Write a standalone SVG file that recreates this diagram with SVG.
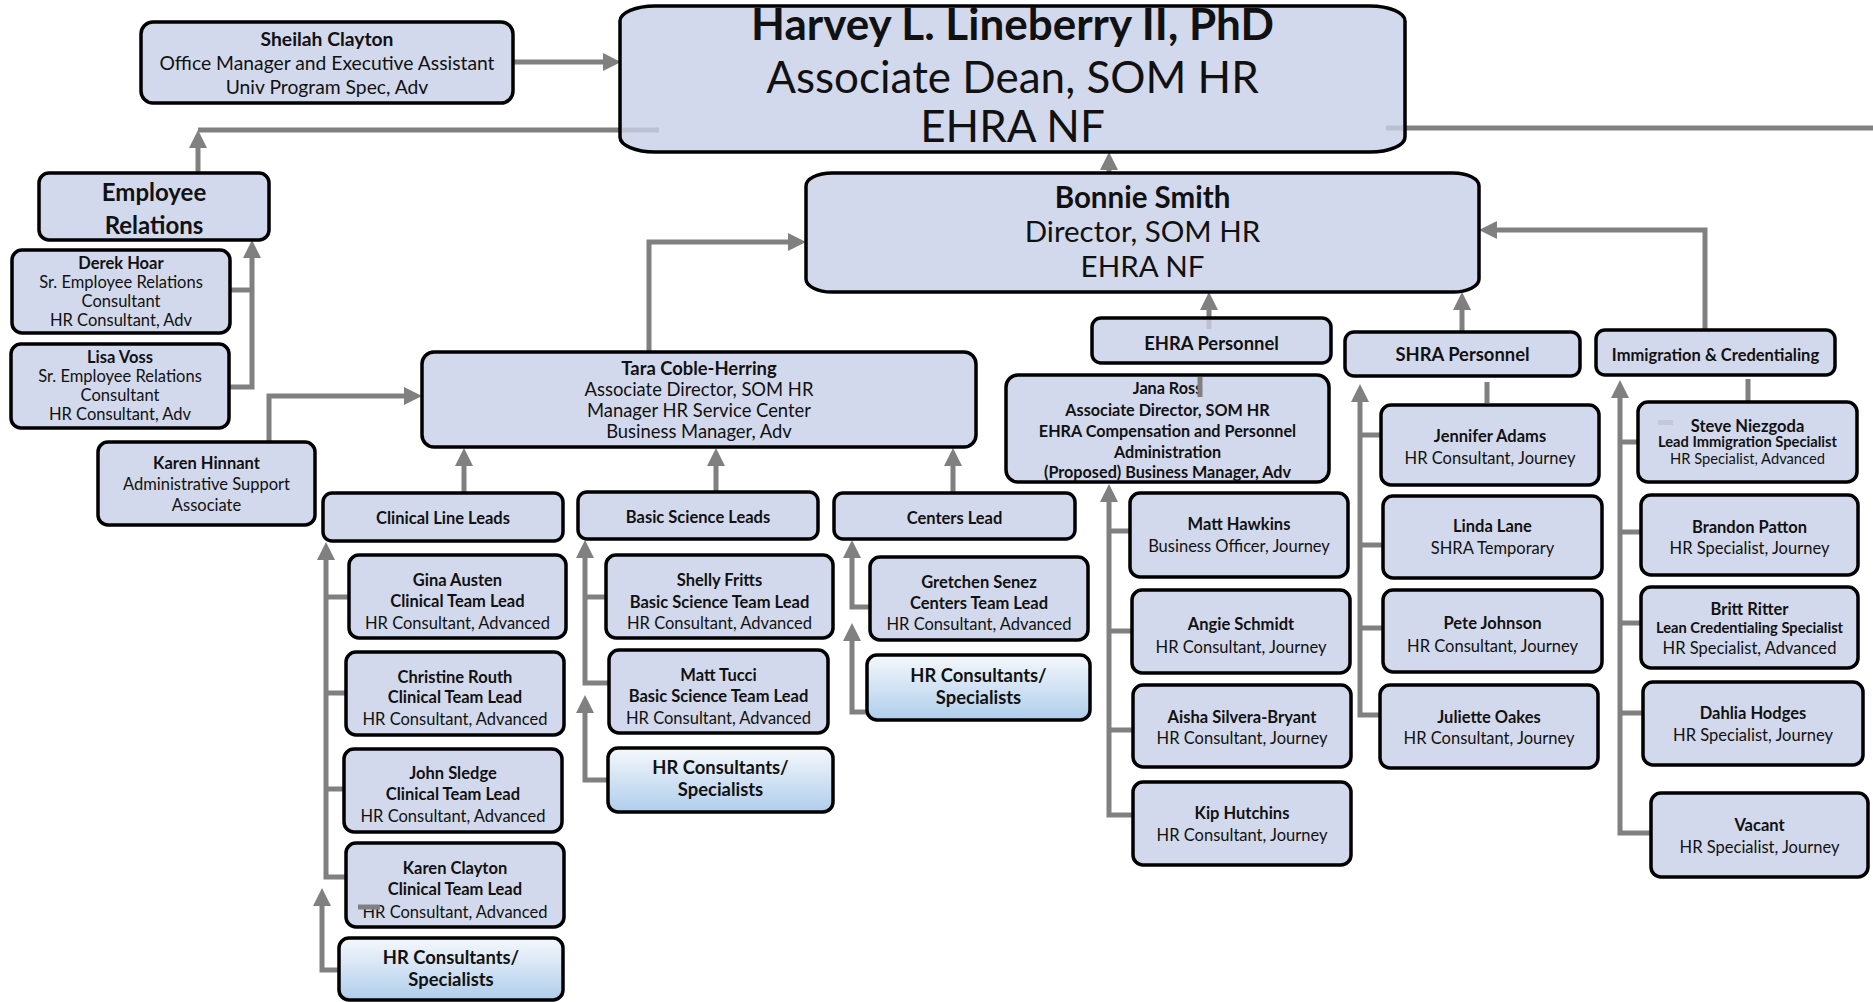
<svg xmlns="http://www.w3.org/2000/svg" width="1873" height="1002" viewBox="0 0 1873 1002">
<style>
  .n { fill: #D3D9EC; stroke: #000; stroke-width: 3.5; }
  .g { fill: url(#blueFade); stroke: #000; stroke-width: 3.5; }
  .c { fill: none; stroke: #808080; stroke-width: 5; }
  .a { marker-end: url(#ah); }
  .faint { fill: none; stroke: #BCC1D2; stroke-width: 5; }
  text { font-family: Lato, "Liberation Sans", sans-serif; text-anchor: middle; fill: #111; }
  .b { font-weight: 700; }
  .f44 { font-size: 44px; }
  .f29 { font-size: 29.5px; }
  .f24 { font-size: 24px; }
  .f19 { font-size: 19.3px; }
  .f18 { font-size: 18.4px; }
  .f16 { font-size: 16.5px; }
  .f162 { font-size: 16.2px; }
  .f15 { font-size: 14.7px; }
</style>
<defs>
  <linearGradient id="blueFade" x1="0" y1="0" x2="0" y2="1">
    <stop offset="0" stop-color="#F5F8FC"/>
    <stop offset="1" stop-color="#AFCDEB"/>
  </linearGradient>
  <marker id="ah" markerUnits="userSpaceOnUse" markerWidth="20" markerHeight="18" refX="8" refY="9" orient="auto">
    <path d="M0,0 L18,9 L0,18 z" fill="#808080"/>
  </marker>
</defs>

<!-- connectors -->
<g id="connectors">
  <path class="c a" d="M513,62 H611"/>
  <path class="c" d="M198,130 H622"/>
  <path class="c a" d="M198,173 V140"/>
  <path class="c" d="M1405,128 H1873"/>
  <path class="c a" d="M1109,173 V162"/>
  <path class="c a" d="M649,352 V242 H796"/>
  <path class="c a" d="M1705,330 V230 H1489"/>
  <path class="c a" d="M1462,332 V302"/>
  <path class="c a" d="M1209,318 V302"/>
  <!-- employee relations team -->
  <path class="c a" d="M229,387 H252 V250"/>
  <path class="c" d="M230,290 H252"/>
  <!-- admin support to associate director -->
  <path class="c a" d="M269,442 V396 H412"/>
  <!-- leads up to associate director -->
  <path class="c a" d="M464,493 V458"/>
  <path class="c a" d="M716,492 V458"/>
  <path class="c a" d="M953,493 V458"/>
  <!-- clinical -->
  <path class="c a" d="M346,877 H326 V552"/>
  <path class="c" d="M326,597 H349 M326,693 H346 M326,789 H344"/>
  <path class="c a" d="M339,970 H322 V898"/>
  <!-- basic science -->
  <path class="c a" d="M609,683 H585 V550"/>
  <path class="c" d="M585,597 H606"/>
  <path class="c a" d="M608,780 H585 V705"/>
  <!-- centers -->
  <path class="c a" d="M870,607 H852 V550"/>
  <path class="c a" d="M867,712 H852 V633"/>
  <!-- EHRA -->
  <path class="c a" d="M1133,815 H1109 V494"/>
  <path class="c" d="M1109,531 H1130 M1109,631 H1132 M1109,730 H1133"/>
  <!-- SHRA -->
  <path class="c a" d="M1380,715 H1360 V394"/>
  <path class="c" d="M1360,435 H1381 M1360,545 H1383 M1360,628 H1383"/>
  <!-- immigration -->
  <path class="c a" d="M1652,833 H1620 V390"/>
  <path class="c" d="M1620,442 H1638 M1620,532 H1641 M1620,623 H1641 M1620,713 H1643"/>
  <!-- short stubs -->
  <path class="c" d="M1487,382 V403"/>
  <path class="c" d="M1748,379 V402"/>
</g>

<g id="harvey">
  <rect class="n" x="620" y="6" width="785" height="146" rx="35" ry="15"/>
  <text class="b f44" x="1012.5" y="40">Harvey L. Lineberry II, PhD</text>
  <text class="f44" x="1012.5" y="93">Associate Dean, SOM HR</text>
  <text class="f44" x="1012.5" y="142">EHRA NF</text>
  <path class="faint" d="M622,130 H659 M1386,128 H1403"/>
</g>

<g id="sheilah">
  <rect class="n" x="141" y="22" width="372" height="81" rx="12"/>
  <text class="b f19" x="327" y="45.5">Sheilah Clayton</text>
  <text class="f19" x="327" y="69.5">Office Manager and Executive Assistant</text>
  <text class="f19" x="327" y="93.5">Univ Program Spec, Adv</text>
</g>

<g id="bonnie">
  <rect class="n" x="806" y="173" width="673" height="119" rx="26" ry="13"/>
  <text class="b f29" x="1142.5" y="208">Bonnie Smith</text>
  <text class="f29" x="1142.5" y="242">Director, SOM HR</text>
  <text class="f29" x="1142.5" y="277">EHRA NF</text>
</g>

<g id="employee-relations">
  <rect class="n" x="39" y="173" width="230" height="67" rx="10"/>
  <text class="b f24" x="154" y="201">Employee</text>
  <text class="b f24" x="154" y="234">Relations</text>
</g>

<g id="derek">
  <rect class="n" x="12" y="250" width="218" height="83" rx="10"/>
  <text class="b f16" x="121" y="269">Derek Hoar</text>
  <text class="f16" x="121" y="288">Sr. Employee Relations</text>
  <text class="f16" x="121" y="307">Consultant</text>
  <text class="f16" x="121" y="326">HR Consultant, Adv</text>
</g>

<g id="lisa">
  <rect class="n" x="11" y="344" width="218" height="84" rx="10"/>
  <text class="b f16" x="120" y="363">Lisa Voss</text>
  <text class="f16" x="120" y="382">Sr. Employee Relations</text>
  <text class="f16" x="120" y="401">Consultant</text>
  <text class="f16" x="120" y="420">HR Consultant, Adv</text>
</g>

<g id="karen-hinnant">
  <rect class="n" x="98" y="442" width="217" height="83" rx="10"/>
  <text class="b f16" x="206.5" y="469">Karen Hinnant</text>
  <text class="f16" x="206.5" y="490">Administrative Support</text>
  <text class="f16" x="206.5" y="511">Associate</text>
</g>

<g id="tara">
  <rect class="n" x="422" y="352" width="554" height="95" rx="12"/>
  <text class="b f18" x="699" y="375">Tara Coble-Herring</text>
  <text class="f18" x="699" y="396">Associate Director, SOM HR</text>
  <text class="f18" x="699" y="417">Manager HR Service Center</text>
  <text class="f18" x="699" y="438">Business Manager, Adv</text>
</g>

<g id="clinical-leads">
  <rect class="n" x="323" y="493" width="240" height="48" rx="9"/>
  <text class="b f16" x="443" y="524">Clinical Line Leads</text>
</g>
<g id="basic-leads">
  <rect class="n" x="578" y="492" width="240" height="47" rx="9"/>
  <text class="b f16" x="698" y="523">Basic Science Leads</text>
</g>
<g id="centers-lead">
  <rect class="n" x="834" y="493" width="241" height="46" rx="9"/>
  <text class="b f16" x="954.5" y="524">Centers Lead</text>
</g>

<g id="gina">
  <rect class="n" x="349" y="555" width="217" height="83" rx="10"/>
  <text class="b f16" x="457.5" y="586">Gina Austen</text>
  <text class="b f16" x="457.5" y="607">Clinical Team Lead</text>
  <text class="f16" x="457.5" y="629">HR Consultant, Advanced</text>
</g>
<g id="christine">
  <rect class="n" x="346" y="652" width="218" height="83" rx="10"/>
  <text class="b f16" x="455" y="683">Christine Routh</text>
  <text class="b f16" x="455" y="703">Clinical Team Lead</text>
  <text class="f16" x="455" y="725">HR Consultant, Advanced</text>
</g>
<g id="john">
  <rect class="n" x="344" y="749" width="218" height="83" rx="10"/>
  <text class="b f16" x="453" y="779">John Sledge</text>
  <text class="b f16" x="453" y="800">Clinical Team Lead</text>
  <text class="f16" x="453" y="822">HR Consultant, Advanced</text>
</g>
<g id="karen-clayton">
  <rect class="n" x="346" y="843" width="218" height="84" rx="10"/>
  <text class="b f16" x="455" y="874">Karen Clayton</text>
  <text class="b f16" x="455" y="895">Clinical Team Lead</text>
  <text class="f16" x="455" y="918">HR Consultant, Advanced</text>
  <path class="c" d="M358,907 H380"/>
</g>
<g id="clinical-staff">
  <rect class="g" x="339" y="938" width="224" height="62" rx="10"/>
  <text class="b f18" x="451" y="964">HR Consultants/</text>
  <text class="b f18" x="451" y="986">Specialists</text>
</g>

<g id="shelly">
  <rect class="n" x="606" y="555" width="227" height="83" rx="10"/>
  <text class="b f16" x="719.5" y="586">Shelly Fritts</text>
  <text class="b f16" x="719.5" y="608">Basic Science Team Lead</text>
  <text class="f16" x="719.5" y="629">HR Consultant, Advanced</text>
</g>
<g id="matt-tucci">
  <rect class="n" x="609" y="650" width="219" height="83" rx="10"/>
  <text class="b f16" x="718.5" y="681">Matt Tucci</text>
  <text class="b f16" x="718.5" y="702">Basic Science Team Lead</text>
  <text class="f16" x="718.5" y="724">HR Consultant, Advanced</text>
</g>
<g id="basic-staff">
  <rect class="g" x="608" y="748" width="225" height="64" rx="10"/>
  <text class="b f18" x="720.5" y="774">HR Consultants/</text>
  <text class="b f18" x="720.5" y="796">Specialists</text>
</g>

<g id="gretchen">
  <rect class="n" x="870" y="557" width="218" height="83" rx="10"/>
  <text class="b f16" x="979" y="588">Gretchen Senez</text>
  <text class="b f16" x="979" y="609">Centers Team Lead</text>
  <text class="f16" x="979" y="630">HR Consultant, Advanced</text>
</g>
<g id="centers-staff">
  <rect class="g" x="867" y="655" width="223" height="65" rx="10"/>
  <text class="b f18" x="978.5" y="682">HR Consultants/</text>
  <text class="b f18" x="978.5" y="704">Specialists</text>
</g>

<g id="ehra-personnel">
  <rect class="n" x="1092" y="318" width="239" height="45" rx="9"/>
  <text class="b f18" x="1211.5" y="349.5">EHRA Personnel</text>
  <path class="faint" d="M1209,320 V329"/>
</g>

<g id="jana">
  <rect class="n" x="1006" y="375" width="323" height="107" rx="12"/>
  <text class="b f162" x="1167.5" y="394">Jana Ross</text>
  <text class="b f162" x="1167.5" y="416">Associate Director, SOM HR</text>
  <text class="b f162" x="1167.5" y="437">EHRA Compensation and Personnel</text>
  <text class="b f162" x="1167.5" y="458">Administration</text>
  <text class="b f162" x="1167.5" y="478">(Proposed) Business Manager, Adv</text>
  <path class="c" d="M1200,377 V397"/>
</g>

<g id="matt-hawkins">
  <rect class="n" x="1130" y="493" width="218" height="84" rx="10"/>
  <text class="b f16" x="1239" y="530">Matt Hawkins</text>
  <text class="f16" x="1239" y="552">Business Officer, Journey</text>
</g>
<g id="angie">
  <rect class="n" x="1132" y="590" width="218" height="83" rx="10"/>
  <text class="b f16" x="1241" y="630">Angie Schmidt</text>
  <text class="f16" x="1241" y="653">HR Consultant, Journey</text>
</g>
<g id="aisha">
  <rect class="n" x="1133" y="685" width="218" height="82" rx="10"/>
  <text class="b f16" x="1242" y="723">Aisha Silvera-Bryant</text>
  <text class="f16" x="1242" y="744">HR Consultant, Journey</text>
</g>
<g id="kip">
  <rect class="n" x="1133" y="782" width="218" height="83" rx="10"/>
  <text class="b f16" x="1242" y="819">Kip Hutchins</text>
  <text class="f16" x="1242" y="841">HR Consultant, Journey</text>
</g>

<g id="shra-personnel">
  <rect class="n" x="1345" y="332" width="235" height="44" rx="9"/>
  <text class="b f18" x="1462.5" y="361">SHRA Personnel</text>
</g>
<g id="jennifer">
  <rect class="n" x="1381" y="405" width="218" height="80" rx="10"/>
  <text class="b f16" x="1490" y="442">Jennifer Adams</text>
  <text class="f16" x="1490" y="464">HR Consultant, Journey</text>
</g>
<g id="linda">
  <rect class="n" x="1383" y="496" width="219" height="82" rx="10"/>
  <text class="b f16" x="1492.5" y="532">Linda Lane</text>
  <text class="f16" x="1492.5" y="554">SHRA Temporary</text>
</g>
<g id="pete">
  <rect class="n" x="1383" y="590" width="219" height="82" rx="10"/>
  <text class="b f16" x="1492.5" y="629">Pete Johnson</text>
  <text class="f16" x="1492.5" y="652">HR Consultant, Journey</text>
</g>
<g id="juliette">
  <rect class="n" x="1380" y="685" width="218" height="83" rx="10"/>
  <text class="b f16" x="1489" y="723">Juliette Oakes</text>
  <text class="f16" x="1489" y="744">HR Consultant, Journey</text>
</g>

<g id="immigration">
  <rect class="n" x="1596" y="330" width="239" height="45" rx="9"/>
  <text class="b f16" x="1715.5" y="361">Immigration &amp; Credentialing</text>
</g>
<g id="steve">
  <rect class="n" x="1638" y="402" width="219" height="80" rx="10"/>
  <rect x="1658" y="420" width="15" height="5" fill="#C3C8D8"/>
  <text class="b f16" x="1747.5" y="432">Steve Niezgoda</text>
  <text class="b f15" x="1747.5" y="447">Lead Immigration Specialist</text>
  <text class="f15" x="1747.5" y="464">HR Specialist, Advanced</text>
</g>
<g id="brandon">
  <rect class="n" x="1641" y="495" width="217" height="80" rx="10"/>
  <text class="b f16" x="1749.5" y="533">Brandon Patton</text>
  <text class="f16" x="1749.5" y="554">HR Specialist, Journey</text>
</g>
<g id="britt">
  <rect class="n" x="1641" y="587" width="217" height="81" rx="10"/>
  <text class="b f16" x="1749.5" y="615">Britt Ritter</text>
  <text class="b f15" x="1749.5" y="633">Lean Credentialing Specialist</text>
  <text class="f16" x="1749.5" y="654">HR Specialist, Advanced</text>
</g>
<g id="dahlia">
  <rect class="n" x="1643" y="682" width="220" height="83" rx="10"/>
  <text class="b f16" x="1753" y="719">Dahlia Hodges</text>
  <text class="f16" x="1753" y="741">HR Specialist, Journey</text>
</g>
<g id="vacant">
  <rect class="n" x="1651" y="793" width="217" height="84" rx="10"/>
  <text class="b f16" x="1759.5" y="831">Vacant</text>
  <text class="f16" x="1759.5" y="853">HR Specialist, Journey</text>
</g>
</svg>
